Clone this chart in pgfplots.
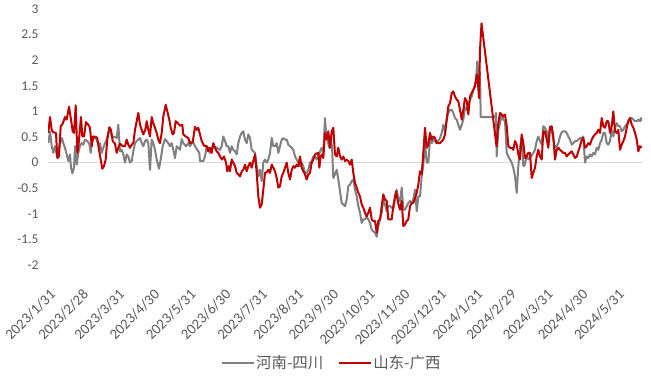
\documentclass[border=0pt]{standalone}
\usepackage{pgfplots}
\pgfplotsset{compat=1.18}
\usepackage{pgfplotstable}
\usepackage{fontspec}
\setmainfont{Carlito}
\newfontfamily\cjk{Noto Sans CJK SC}
\definecolor{sgray}{HTML}{808080}
\definecolor{sred}{HTML}{C00000}
\definecolor{txt}{HTML}{595959}
\definecolor{zline}{HTML}{D9D9D9}

% x = horizontal position (pixel scale of the reference), y = value
\pgfplotstableread{
x y
48.3 0.38
50.0 0.61
51.7 0.32
53.3 0.19
55.0 0.32
56.7 0.16
58.3 0.25
60.0 0.38
62.0 0.48
63.3 0.38
65.0 0.29
66.7 0.16
68.3 0.03
70.0 0.16
71.0 -0.10
72.3 -0.21
74.0 -0.10
75.0 0.32
76.7 -0.04
78.3 0.19
80.0 0.33
81.7 0.38
83.3 0.35
85.0 0.45
87.3 0.42
89.3 0.37
90.7 0.19
92.7 0.51
94.7 0.48
96.7 0.45
98.7 0.32
100.0 0.38
101.7 0.19
103.3 0.29
105.0 0.38
106.7 0.45
108.3 0.58
110.0 0.68
111.7 0.51
113.3 0.50
115.0 0.50
116.7 0.48
118.3 0.74
120.0 0.22
121.7 0.25
123.3 0.16
125.0 0.00
126.7 0.16
128.3 0.12
130.0 0.00
131.7 0.03
133.3 0.22
135.0 0.38
136.7 0.42
138.3 0.45
140.0 0.48
141.7 0.38
143.3 0.32
145.0 0.42
146.7 0.45
148.3 0.38
150.0 -0.14
151.7 0.45
153.3 0.38
155.0 0.25
156.7 0.06
159.0 -0.12
160.7 0.06
162.7 0.32
165.0 0.46
166.7 0.42
168.3 0.38
170.0 0.32
171.7 0.38
173.3 0.25
175.0 0.09
176.7 0.32
178.3 0.29
180.0 0.25
181.7 0.46
183.3 0.38
186.0 0.32
188.3 0.38
190.0 0.32
192.7 0.42
195.0 0.32
197.3 0.25
199.3 0.19
200.0 0.03
203.3 0.03
205.0 0.12
206.7 0.32
208.3 0.29
210.0 0.19
211.7 0.29
213.3 0.32
216.7 0.29
220.0 0.25
221.7 0.32
223.3 0.51
225.0 0.42
226.7 0.32
228.3 0.32
230.0 0.19
231.7 0.32
233.3 0.25
235.0 0.22
236.7 0.16
238.3 0.38
240.0 0.51
241.7 0.58
243.3 0.61
245.0 0.45
246.7 0.38
248.3 0.55
250.0 0.48
251.7 0.25
253.3 0.22
255.0 0.19
256.7 -0.07
258.3 -0.27
260.0 -0.14
261.7 -0.36
263.3 0.00
265.0 0.06
266.7 0.00
268.3 0.06
270.0 0.19
271.7 0.48
273.3 0.32
275.0 0.32
276.7 0.38
278.3 0.19
280.0 0.32
281.7 0.45
283.3 0.48
285.0 0.45
286.7 0.45
288.3 0.35
290.0 0.32
291.7 0.29
293.3 0.25
295.0 0.12
296.7 0.06
298.3 0.00
300.0 -0.07
301.7 0.00
303.3 -0.07
305.0 -0.20
306.7 -0.20
308.3 -0.14
310.0 0.00
311.7 0.03
313.3 0.12
315.0 0.12
316.7 0.06
318.3 0.12
320.0 0.22
321.7 0.29
323.3 0.19
325.0 0.87
326.0 0.58
327.3 0.45
329.3 0.29
330.7 0.45
332.0 0.32
333.3 -0.30
335.0 -0.23
336.7 -0.14
338.3 -0.33
340.0 -0.56
341.7 -0.79
343.3 -0.82
345.0 -0.85
346.7 -0.72
348.3 -0.46
350.0 -0.43
351.7 -0.36
353.3 -0.33
355.0 -0.53
356.7 -0.66
358.3 -0.85
360.0 -0.98
361.7 -1.18
363.3 -1.11
365.0 -1.11
366.7 -1.05
368.3 -1.11
370.0 -1.18
371.7 -1.31
373.3 -1.34
375.0 -1.37
376.7 -1.45
378.3 -1.24
380.0 -1.11
381.7 -0.98
383.3 -0.72
385.0 -0.82
386.7 -0.95
388.3 -0.85
390.0 -0.85
391.7 -0.88
393.3 -0.91
395.0 -0.72
396.7 -0.53
398.3 -0.72
400.0 -0.75
401.7 -0.49
403.3 -0.92
405.0 -0.92
406.7 -0.85
408.3 -0.79
410.0 -0.75
411.7 -0.79
413.3 -0.72
415.0 -0.53
416.7 -0.95
418.3 -0.66
420.0 -0.66
421.7 -0.27
423.3 -0.04
425.0 0.38
426.7 0.00
428.3 0.00
430.0 0.45
431.7 0.38
433.3 0.45
436.7 0.38
440.0 0.48
441.7 0.58
443.3 0.74
445.0 0.61
446.7 0.84
448.3 0.97
450.0 1.03
451.7 1.03
453.3 0.97
455.0 0.87
456.7 0.84
458.3 0.74
460.0 0.64
461.7 0.74
463.3 0.84
465.0 1.07
466.7 1.03
468.3 1.13
470.0 1.23
471.7 1.29
473.3 1.42
475.0 1.52
476.0 1.60
477.3 1.98
478.7 1.62
480.0 1.75
480.7 0.89
495.0 0.89
496.0 0.97
496.7 0.12
498.3 0.64
500.0 0.77
501.7 0.94
503.3 0.84
505.0 0.81
506.7 0.19
508.3 0.12
510.0 0.06
511.7 0.00
513.3 -0.10
515.0 -0.27
516.7 -0.59
518.3 -0.07
520.0 0.29
521.7 0.51
523.3 -0.07
525.0 -0.04
526.7 0.16
528.3 0.06
530.0 0.09
533.3 0.19
535.0 0.25
536.7 0.42
538.3 0.51
540.0 0.42
541.7 0.35
543.3 0.71
545.0 0.68
546.7 0.61
548.3 0.45
550.0 0.71
551.7 0.64
553.3 0.45
555.0 0.29
556.7 0.32
558.3 0.38
560.0 0.51
561.7 0.59
563.3 0.61
565.0 0.61
566.7 0.58
568.3 0.51
570.0 0.45
571.7 0.35
573.3 0.38
575.0 0.42
576.7 0.42
578.3 0.45
580.0 0.48
581.7 0.48
583.3 0.51
585.0 0.00
586.7 0.12
588.3 0.09
590.0 0.16
591.7 0.12
593.3 0.19
595.0 0.16
596.7 0.29
598.3 0.25
600.0 0.38
601.7 0.45
603.3 0.58
605.0 0.58
606.7 0.38
608.3 0.35
610.0 0.42
611.7 0.64
613.3 0.51
615.0 0.68
616.7 0.77
618.3 0.71
620.0 0.71
621.7 0.61
623.3 0.64
625.0 0.71
626.7 0.74
628.3 0.81
630.0 0.87
631.7 0.87
633.3 0.84
635.0 0.81
636.7 0.81
638.3 0.84
640.0 0.81
641.0 0.87
641.7 0.81
}\henansichuan

\pgfplotstableread{
x y
48.3 0.58
50.0 0.89
51.7 0.64
53.3 0.59
56.0 0.58
57.3 0.09
59.0 0.12
60.7 0.71
62.7 0.76
65.0 0.89
66.7 0.84
69.0 1.09
71.0 0.84
72.7 0.61
74.0 0.58
75.7 1.12
77.3 0.19
78.7 0.38
81.0 0.89
82.3 0.51
84.0 0.51
86.0 0.79
88.3 0.74
90.0 0.68
91.7 0.32
93.3 0.51
96.0 0.50
97.3 0.48
99.0 0.25
100.7 0.06
102.3 -0.12
104.0 -0.07
105.7 0.06
107.3 0.45
109.3 0.69
111.0 0.64
112.7 0.42
115.0 0.37
116.7 0.19
118.3 0.29
120.0 0.37
122.7 0.32
125.0 0.32
126.7 0.45
128.3 0.35
130.0 0.29
131.7 0.35
133.3 0.38
135.0 0.64
136.7 0.81
138.3 0.97
140.0 0.74
141.7 0.64
143.3 0.55
145.3 0.64
146.7 0.81
148.3 0.64
150.0 0.51
151.7 0.89
153.3 0.77
155.0 0.68
156.7 0.58
158.3 0.45
160.0 0.38
161.7 0.58
163.3 0.90
165.7 1.13
167.7 0.97
169.3 0.84
170.7 0.68
172.7 0.55
174.0 0.58
175.7 0.81
178.3 0.76
180.0 0.72
182.3 0.74
183.3 0.55
185.7 0.51
188.3 0.48
190.0 0.38
192.7 0.40
195.0 0.70
196.7 0.64
198.3 0.68
200.0 0.55
201.7 0.42
204.0 0.33
206.7 0.32
208.3 0.22
210.0 0.29
211.7 0.19
213.3 0.38
215.0 0.29
216.7 0.22
218.3 0.19
220.0 0.12
222.0 0.06
224.0 0.12
226.0 0.00
227.3 -0.17
228.7 -0.07
230.0 -0.17
231.7 0.06
233.3 0.00
235.0 -0.07
236.7 -0.20
238.3 -0.23
240.0 -0.27
241.7 -0.17
243.3 -0.14
245.0 -0.04
246.7 -0.17
248.3 -0.07
250.0 0.00
251.7 -0.10
253.3 0.03
255.0 0.16
256.7 -0.20
258.3 -0.66
260.0 -0.88
261.7 -0.82
263.3 -0.53
265.0 -0.20
266.7 -0.19
268.3 -0.14
270.0 -0.20
271.7 -0.04
273.3 -0.10
275.0 -0.17
276.7 -0.30
278.3 -0.49
280.0 -0.46
281.7 -0.27
283.3 -0.20
285.0 -0.10
286.7 0.00
288.3 -0.20
290.0 -0.33
291.7 -0.14
293.3 -0.07
295.0 -0.10
296.7 -0.04
298.3 -0.07
300.0 0.12
301.7 -0.10
303.3 -0.17
305.0 -0.23
306.7 -0.33
308.3 -0.23
310.0 -0.20
311.7 0.00
313.3 0.06
315.0 0.16
316.7 0.18
318.3 0.19
319.3 -0.10
320.7 0.12
322.0 0.16
323.3 0.09
325.0 0.58
326.7 0.45
328.3 0.61
330.0 0.29
331.7 0.61
333.3 0.68
335.0 0.16
336.7 0.12
338.3 0.29
340.0 0.12
341.7 0.06
343.3 0.12
345.0 0.03
346.7 0.06
348.3 0.03
350.0 -0.04
351.7 0.06
353.3 -0.20
355.0 -0.40
356.7 -0.49
358.3 -0.59
360.0 -0.66
361.7 -0.82
363.3 -0.88
365.0 -0.98
366.7 -1.05
368.3 -0.98
370.0 -0.88
371.7 -1.11
373.3 -1.14
375.0 -1.14
376.7 -1.37
378.3 -1.14
380.0 -1.11
381.7 -0.85
383.3 -0.62
385.0 -0.72
386.7 -0.75
388.3 -1.11
390.0 -1.11
391.7 -1.11
393.3 -0.85
396.0 -0.56
398.3 -0.80
400.0 -0.92
401.7 -0.75
403.3 -1.24
405.0 -1.21
406.7 -1.14
408.3 -1.11
410.0 -0.85
411.7 -0.79
413.3 -0.79
415.0 -0.69
416.7 -0.59
418.3 -0.43
420.0 -0.17
421.7 -0.23
423.3 0.19
425.0 0.68
426.7 0.29
428.3 0.35
430.0 0.58
431.7 0.45
433.3 0.51
435.0 0.48
436.7 0.38
440.0 0.38
443.3 0.45
445.0 0.55
446.7 0.84
448.3 1.10
450.0 1.16
451.7 1.36
453.3 1.39
455.0 1.29
456.7 1.23
458.3 1.20
460.0 1.03
461.7 0.84
463.3 1.03
465.0 1.26
466.7 1.20
468.3 0.94
470.0 1.29
471.7 1.36
473.3 1.42
475.0 1.49
476.7 1.72
477.7 1.62
479.0 1.26
480.0 2.20
481.5 2.72
496.5 0.32
498.3 0.77
500.0 0.97
501.7 0.94
503.3 0.90
505.0 0.94
506.7 0.71
508.3 0.32
510.0 0.29
511.7 0.29
513.3 0.25
515.0 0.42
516.7 0.35
518.3 0.16
520.0 0.06
521.7 0.55
523.3 0.38
525.0 0.09
526.7 0.12
528.3 0.19
530.0 0.19
531.7 -0.30
533.3 -0.20
535.0 -0.10
536.7 0.12
538.3 0.25
540.0 0.12
541.7 0.06
543.3 0.61
545.0 0.61
546.7 0.45
548.3 0.29
550.0 0.68
551.7 0.71
553.3 0.51
555.0 0.06
556.7 0.25
558.3 0.29
560.0 0.25
561.7 0.22
563.3 0.19
565.0 0.19
566.7 0.12
568.3 0.16
570.0 0.19
571.7 0.22
573.3 0.16
575.0 0.09
576.7 0.12
578.3 0.22
580.0 0.32
581.7 0.45
583.3 0.48
585.0 0.29
586.7 0.32
588.3 0.38
590.0 0.35
591.7 0.45
593.3 0.51
595.0 0.55
596.7 0.58
598.3 0.64
600.0 0.58
601.7 0.87
603.3 0.71
605.0 0.68
606.7 0.81
608.3 0.81
610.0 0.58
611.7 0.71
613.3 1.00
615.0 0.61
616.7 0.58
618.3 0.64
620.0 0.25
621.7 0.35
623.3 0.42
625.0 0.51
626.7 0.68
628.3 0.81
630.0 0.87
631.7 0.74
633.3 0.68
635.0 0.58
636.7 0.45
638.3 0.22
640.0 0.32
641.7 0.29
}\shandongguangxi

\begin{document}
\begin{tikzpicture}[x=1bp,y=1bp]
\useasboundingbox (0,0) rectangle (651,377);
\begin{axis}[
  at={(48bp,112bp)}, anchor=south west,
  scale only axis, width=594bp, height=256bp,
  xmin=48, xmax=642, ymin=-2, ymax=3,
  axis line style={draw=none},
  major tick length=0pt,
  ytick={-2,-1.5,-1,-0.5,0,0.5,1,1.5,2,2.5,3},
  yticklabels={-2,-1.5,-1,-0.5,0,0.5,1,1.5,2,2.5,3},
  xtick={48,80.8,117.0,152.1,188.4,223.5,259.8,296.0,331.1,367.4,402.5,438.8,475.1,509.0,545.3,580.4,616.6},
  xticklabels={2023/1/31,2023/2/28,2023/3/31,2023/4/30,2023/5/31,2023/6/30,2023/7/31,2023/8/31,2023/9/30,2023/10/31,2023/11/30,2023/12/31,2024/1/31,2024/2/29,2024/3/31,2024/4/30,2024/5/31},
  yticklabel style={font=\fontsize{13.5}{15}\selectfont, text=txt, xshift=-6bp},
  xticklabel style={font=\fontsize{14.8}{16}\selectfont, text=txt, inner sep=0pt, xshift=5bp, yshift=-27bp, rotate=45, anchor=east},
  legend columns=2,
  legend style={at={(axis description cs:0.477,-0.383)}, anchor=center, draw=none, fill=none,
    font=\fontsize{15.5}{17}\selectfont, text=txt,
    nodes={inner sep=1.5bp},
    /tikz/every even column/.append style={column sep=13bp}},
  legend image code/.code={\draw[#1] (0bp,0bp) -- (32bp,0bp);},
]
\draw[zline, line width=1bp] (axis cs:48,0) -- (axis cs:642,0);
\addplot[sgray, line width=2bp, line join=round] table[x=x,y=y] {\henansichuan};
\addlegendentry{\cjk 河南-四川}
\addplot[sred, line width=2bp, line join=round] table[x=x,y=y] {\shandongguangxi};
\addlegendentry{\cjk 山东-广西}
\end{axis}
\end{tikzpicture}
\end{document}
